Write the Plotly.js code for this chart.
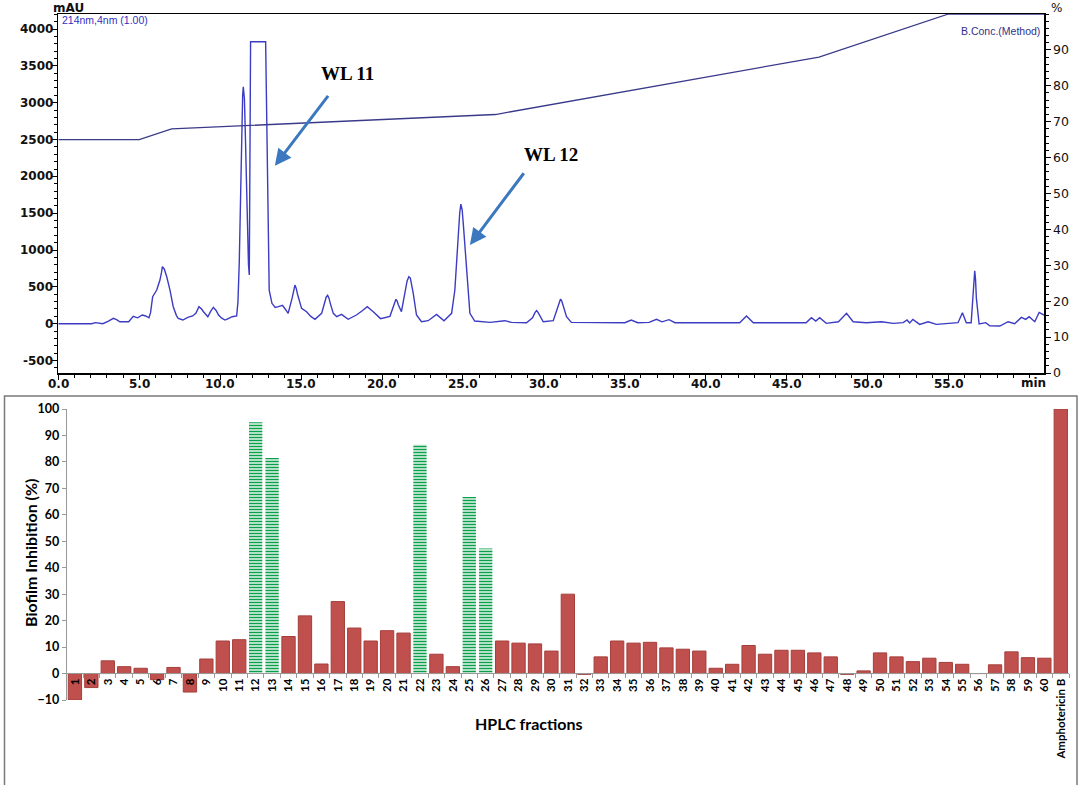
<!DOCTYPE html>
<html>
<head>
<meta charset="utf-8">
<script src="https://cdn.plot.ly/plotly-3.0.1.min.js"></script>
<style>
html,body{margin:0;padding:0;background:#fff;}
#chart{width:1084px;height:785px;}
</style>
</head>
<body>
<div id="chart"></div>
<script>
// ---------- Chromatogram (214 nm) ----------
var chromTime = [0,2.05,2.3,2.5,2.75,3.1,3.4,3.6,3.8,4.35,4.63,4.9,5.05,5.19,5.4,5.6,5.7,5.83,6.08,6.28,6.38,6.43,6.55,6.7,6.9,7.1,7.3,7.41,7.7,8.0,8.3,8.5,8.69,8.85,8.97,9.24,9.42,9.58,9.75,9.9,10.1,10.3,10.5,10.74,11.02,11.1,11.18,11.25,11.33,11.39,11.43,11.47,11.5,11.55,11.62,11.67,11.75,11.8,11.84,11.88,12.81,12.87,12.95,13.03,13.2,13.4,13.6,13.85,14.05,14.2,14.45,14.55,14.62,14.7,14.78,15.03,15.34,15.6,15.86,16.27,16.45,16.55,16.64,16.72,16.8,16.99,17.2,17.5,17.91,18.42,18.8,19.09,19.46,19.91,20.49,20.7,20.8,20.86,20.93,21.0,21.2,21.45,21.55,21.66,21.75,21.8,21.93,22.13,22.44,22.85,23.37,23.83,24.3,24.5,24.6,24.71,24.8,24.87,24.95,25.02,25.1,25.22,25.3,25.43,25.73,26.67,27.59,28.0,28.93,29.3,29.45,29.55,29.65,29.8,29.96,30.58,30.85,30.95,31.03,31.1,31.2,31.4,31.7,32.84,35.0,35.4,35.8,36.5,36.96,37.3,37.73,38.1,42.1,42.52,42.94,46.2,46.53,46.8,47.04,47.45,48.2,48.7,49.11,49.93,50.86,51.58,52.2,52.44,52.6,52.8,53.22,53.74,54.25,55.59,55.86,56.1,56.4,56.52,56.57,56.62,56.67,56.72,56.89,57.3,57.55,58.17,58.68,59.09,59.5,59.77,59.98,60.33,60.6,60.9];
var chromMAU = [0,0,14,10,0,35,73,55,27,27,100,80,105,118,105,80,150,366,457,593,700,774,740,638,457,231,110,73,50,86,105,140,231,200,163,95,170,222,180,118,75,50,70,95,105,300,823,1800,2628,3100,3216,3150,3050,2628,1900,1271,800,661,1800,3827,3827,2855,1271,457,277,220,231,250,190,141,350,490,525,480,400,209,163,100,60,141,300,360,385,350,280,141,95,127,60,118,180,231,163,69,100,230,310,331,310,260,163,450,580,638,620,560,412,118,27,41,127,41,141,457,800,1271,1500,1624,1550,1362,1100,684,420,141,36,18,41,18,14,80,150,177,150,80,27,41,220,300,335,310,230,95,18,14,14,50,14,18,59,25,55,14,14,104,14,14,82,36,82,5,27,141,27,14,27,5,14,50,10,59,-9,27,-9,14,149,14,14,400,600,719,600,350,-4,14,-27,-32,27,0,86,59,95,27,154,118];

// ---------- Gradient (B conc., %) ----------
var gradTime = [0,5,7,27,47,55,60.9];
var gradPct  = [65,65,68,72,88,100,100];

// ---------- Biofilm inhibition ----------
var fractions = ['1','2','3','4','5','6','7','8','9','10','11','12','13','14','15','16','17','18','19','20','21','22','23','24','25','26','27','28','29','30','31','32','33','34','35','36','37','38','39','40','41','42','43','44','45','46','47','48','49','50','51','52','53','54','55','56','57','58','59','60','Amphotericin B'];
var inhibition = [-10,-5.3,4.8,2.6,2,-2.3,2.3,-7,5.5,12.3,12.8,95,81.5,14,21.8,3.6,27.2,17.2,12.3,16.2,15.3,86.5,7.3,2.6,66.7,47.3,12.3,11.5,11.2,8.5,30,-0.3,6.3,12.3,11.5,11.8,9.7,9.2,8.5,2,3.5,10.6,7.3,8.8,8.8,7.8,6.3,-0.3,1,7.8,6.3,4.5,5.8,4.2,3.5,0,3.3,8.2,6,5.8,100];
var activeFractions = ['12','13','22','25','26'];

var xTickVals = [0,5,10,15,20,25,30,35,40,45,50,55];
var xTickText = ['0.0','5.0','10.0','15.0','20.0','25.0','30.0','35.0','40.0','45.0','50.0','55.0'];
var mauTicks = [-500,0,500,1000,1500,2000,2500,3000,3500,4000];
var pctTicks = [0,10,20,30,40,50,60,70,80,90];

var W = 1084, H = 785;
function px(x){return x/W;}
function py(y){return 1 - y/H;}

var redX=[],redY=[],grnX=[],grnY=[];
fractions.forEach(function(f,i){
  if(activeFractions.indexOf(f)>=0){grnX.push(f);grnY.push(inhibition[i]);}
  else {redX.push(f);redY.push(inhibition[i]);}
});

var traces = [
  {x:gradTime,y:gradPct,xaxis:'x',yaxis:'y2',type:'scatter',mode:'lines',
   line:{color:'#3a3a8a',width:1.3},hoverinfo:'skip'},
  {x:chromTime,y:chromMAU,xaxis:'x',yaxis:'y',type:'scatter',mode:'lines',
   line:{color:'#3b3bc4',width:1.4},hoverinfo:'skip'},
  {x:redX,y:redY,xaxis:'x3',yaxis:'y3',type:'bar',
   marker:{color:'#c0504d',line:{color:'#a53e3b',width:1}}},
  {x:grnX,y:grnY,xaxis:'x3',yaxis:'y3',type:'bar',
   marker:{color:'#ffffff',line:{width:0},
     pattern:{shape:'-',fgcolor:'#0aa04a',bgcolor:'#ffffff',size:3,solidity:0.55}}}
];

var topFont = {family:'DejaVu Sans, Verdana, sans-serif',size:12,color:'#111',weight:'bold'};
var botFont = {family:'Lato, Open Sans, sans-serif',size:12.5,color:'#000',weight:'bold'};

var annotations = [
  {xref:'paper',yref:'paper',x:px(68),y:py(8),text:'mAU',showarrow:false,xanchor:'center',yanchor:'middle',font:topFont},
  {xref:'paper',yref:'paper',x:px(1056),y:py(8),text:'%',showarrow:false,xanchor:'center',yanchor:'middle',
   font:{family:'DejaVu Sans, Verdana, sans-serif',size:12,color:'#111'}},
  {xref:'paper',yref:'paper',x:px(1033),y:py(383),text:'min',showarrow:false,xanchor:'center',yanchor:'middle',font:topFont},
  {xref:'paper',yref:'paper',x:px(59.5),y:py(20),text:'214nm,4nm (1.00)',showarrow:false,xanchor:'left',yanchor:'middle',
   font:{family:'Liberation Sans, Arial, sans-serif',size:10.5,color:'#3030c0'}},
  {xref:'paper',yref:'paper',x:px(1042),y:py(31),text:'B.Conc.(Method)',showarrow:false,xanchor:'right',yanchor:'middle',
   font:{family:'Liberation Sans, Arial, sans-serif',size:10.5,color:'#30308a'}},
  {xref:'x',yref:'y',x:17.85,y:3402,text:'WL 11',showarrow:false,xanchor:'center',yanchor:'middle',
   font:{family:'Liberation Serif, Times New Roman, serif',size:19,color:'#000',weight:'bold'}},
  {xref:'x',yref:'y',x:30.41,y:2299,text:'WL 12',showarrow:false,xanchor:'center',yanchor:'middle',
   font:{family:'Liberation Serif, Times New Roman, serif',size:19,color:'#000',weight:'bold'}},
  {xref:'x',yref:'y',axref:'x',ayref:'y',x:13.38,y:2144,ax:16.74,ay:3113,text:'',showarrow:true,
   arrowhead:2,arrowsize:1.1,arrowwidth:3,arrowcolor:'#3b78c0',standoff:0},
  {xref:'x',yref:'y',axref:'x',ayref:'y',x:25.43,y:1068,ax:28.83,ay:2063,text:'',showarrow:true,
   arrowhead:2,arrowsize:1.1,arrowwidth:3,arrowcolor:'#3b78c0',standoff:0},
  {xref:'paper',yref:'paper',x:px(30),y:py(553),text:'Biofilm Inhibition (%)',textangle:-90,showarrow:false,
   xanchor:'center',yanchor:'middle',font:{family:'Lato, Open Sans, sans-serif',size:16,color:'#000',weight:'bold'}},
  {xref:'paper',yref:'paper',x:px(529),y:py(723),text:'HPLC fractions',showarrow:false,
   xanchor:'center',yanchor:'middle',font:{family:'Lato, Open Sans, sans-serif',size:16,color:'#000',weight:'bold'}}
];
// tick labels of the chromatogram axes, placed tight to the axes
mauTicks.forEach(function(v){
  annotations.push({xref:'paper',yref:'y',x:px(54.5),y:v,text:String(v),showarrow:false,
    xanchor:'right',yanchor:'middle',font:topFont});
});
xTickVals.forEach(function(v,i){
  annotations.push({xref:'x',yref:'paper',x:v,y:py(383.5),text:xTickText[i],showarrow:false,
    xanchor:'center',yanchor:'middle',font:topFont});
});

var layout = {
  width:W,height:H,margin:{l:0,r:0,t:0,b:0},
  paper_bgcolor:'#fff',plot_bgcolor:'rgba(0,0,0,0)',
  showlegend:false,barmode:'overlay',bargap:0.19,
  xaxis:{domain:[px(58.3),px(1044)],range:[0,60.9],anchor:'y',
    tickvals:xTickVals,showticklabels:false,ticks:'outside',ticklen:5,tickcolor:'#000',
    minor:{dtick:1,ticks:'outside',ticklen:3,tickcolor:'#000'},
    showline:true,linecolor:'#000',linewidth:1.5,mirror:true,showgrid:false,zeroline:false},
  yaxis:{domain:[py(373),py(14)],range:[-669,4204],anchor:'x',
    tickvals:mauTicks,showticklabels:false,ticks:'outside',ticklen:5,tickcolor:'#000',
    minor:{dtick:100,ticks:'outside',ticklen:3,tickcolor:'#000'},
    showline:true,linecolor:'#000',linewidth:1.5,showgrid:false,zeroline:false},
  yaxis2:{overlaying:'y',side:'right',anchor:'x',range:[0,100],
    tickvals:pctTicks,ticks:'outside',ticklen:5,tickcolor:'#000',
    minor:{dtick:2,ticks:'outside',ticklen:3,tickcolor:'#000'},
    showline:true,linecolor:'#000',linewidth:1.5,showgrid:false,zeroline:false,
    tickfont:{family:'DejaVu Sans, Verdana, sans-serif',size:12.5,color:'#111'}},
  xaxis3:{domain:[px(66.7),px(1069)],anchor:'free',position:py(673),
    type:'category',categoryorder:'array',categoryarray:fractions,
    ticks:'outside',tickson:'boundaries',ticklen:4,tickcolor:'#999',
    showline:true,linecolor:'#999',linewidth:1,showgrid:false,zeroline:false,
    tickangle:-90,tickfont:{family:'Lato, Open Sans, sans-serif',size:11.5,color:'#000',weight:'bold'}},
  yaxis3:{domain:[py(700),py(409)],range:[-10,100],anchor:'x3',dtick:10,
    ticks:'outside',ticklen:4,tickcolor:'#999',
    showline:true,linecolor:'#999',linewidth:1,showgrid:false,zeroline:false,
    tickfont:botFont},
  shapes:[
    {type:'rect',xref:'paper',yref:'paper',x0:px(4.5),x1:px(1077),y0:py(800),y1:py(396),
     line:{color:'#7a7a7a',width:1.5},fillcolor:'rgba(0,0,0,0)'}
  ],
  annotations:annotations
};

Plotly.newPlot('chart',traces,layout,{staticPlot:true,displayModeBar:false});
</script>
</body>
</html>
